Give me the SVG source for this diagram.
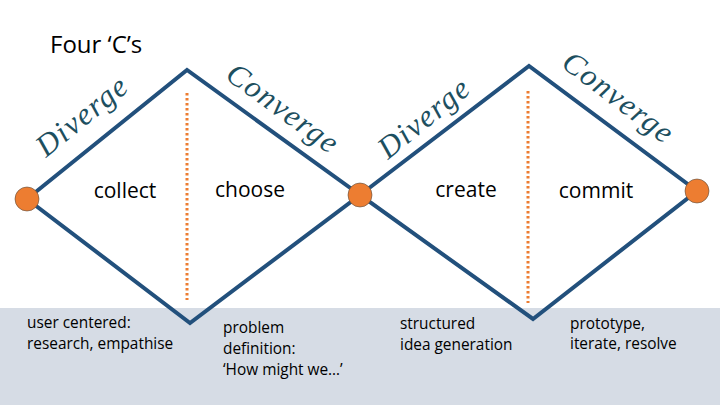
<svg xmlns="http://www.w3.org/2000/svg" width="720" height="405" viewBox="0 0 720 405">
<style>
.lbl{font-family:"Open Sans","Liberation Sans",sans-serif;font-size:21px;fill:#000}
.sub{font-family:"Open Sans","Liberation Sans",sans-serif;font-size:15.4px;fill:#000}
.hand{font-family:"Liberation Serif","DejaVu Serif",serif;font-style:italic;font-size:31px;fill:#1d4f5f;letter-spacing:1.5px}
.dia{fill:none;stroke:#22507c;stroke-width:4;stroke-linejoin:miter}
.dot{stroke:#ed7d31;stroke-width:3;stroke-dasharray:2.5 2.5;fill:none}
.node{fill:#ed7d31;stroke:#5a4a3a;stroke-width:0.6}
</style>
<rect x="0" y="0" width="720" height="405" fill="#fff"/>
<rect x="0" y="308" width="720" height="97" fill="#d6dce5"/>
<g id="connectors">
<path class="dia" d="M27,199 L187,70 L360,195 L190,323 Z"/>
<path class="dia" d="M360,195 L529,66 L697,191 L533,319 Z"/>
<line class="dot" x1="187" y1="93" x2="187" y2="300"/>
<line class="dot" x1="528" y1="91" x2="528" y2="303"/>
</g>
<g id="title"><text x="50" y="53" font-family="'Open Sans','Liberation Sans',sans-serif" font-size="24" fill="#000">Four ‘C’s</text></g>
<g id="n-left"><circle class="node" cx="27" cy="199" r="12"/></g>
<g id="n-mid"><circle class="node" cx="360" cy="195" r="12"/></g>
<g id="n-right"><circle class="node" cx="697" cy="191" r="12"/></g>
<g id="labels">
<text class="lbl" x="125" y="198" text-anchor="middle">collect</text>
<text class="lbl" x="250" y="197" text-anchor="middle">choose</text>
<text class="lbl" x="466" y="197" text-anchor="middle">create</text>
<text class="lbl" x="596" y="198" text-anchor="middle">commit</text>
</g>
<g id="script">
<text class="hand" transform="translate(46,158) rotate(-39)">Diverge</text>
<text class="hand" transform="translate(224,78) rotate(36)">Converge</text>
<text class="hand" transform="translate(388,160) rotate(-39)">Diverge</text>
<text class="hand" transform="translate(560,66) rotate(37)">Converge</text>
</g>
<g id="notes">
<text class="sub" x="27" y="328">user centered:</text>
<text class="sub" x="27" y="349">research, empathise</text>
<text class="sub" x="223" y="333">problem</text>
<text class="sub" x="223" y="354">definition:</text>
<text class="sub" x="223" y="375">‘How might we…’</text>
<text class="sub" x="400" y="329">structured</text>
<text class="sub" x="400" y="350">idea generation</text>
<text class="sub" x="570" y="329">prototype,</text>
<text class="sub" x="570" y="349">iterate, resolve</text>
</g>
</svg>
